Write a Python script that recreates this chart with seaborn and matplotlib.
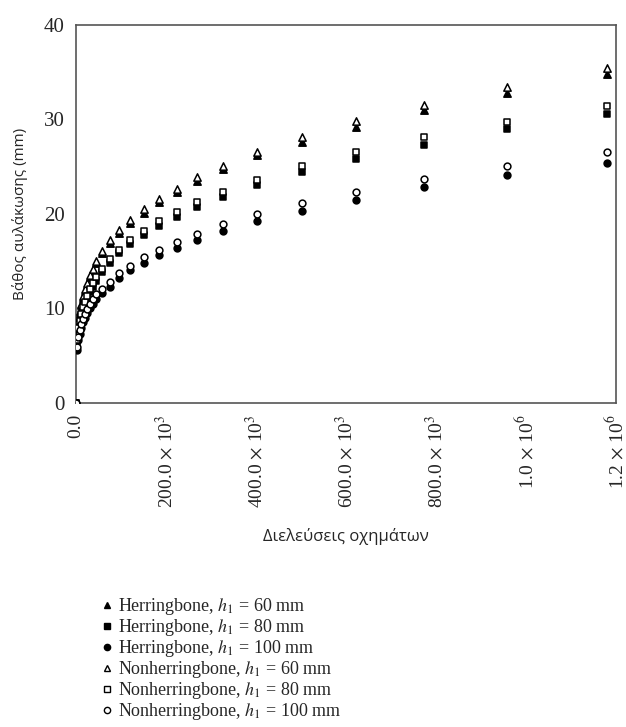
import matplotlib
matplotlib.use("Agg")
import matplotlib.pyplot as plt
import seaborn as sns
import pandas as pd
from matplotlib.lines import Line2D

# ---- data ----
passes = [0, 3e3, 6e3, 9e3, 12e3, 16e3, 20e3, 25e3, 31e3, 38e3, 46e3,
          58e3, 76e3, 96e3, 120e3, 151e3, 184e3, 224e3, 269e3, 327e3,
          402e3, 502e3, 622e3, 773e3, 958e3, 1180e3]

herr_60 = [0, 7.1, 8.6, 9.5, 10.3, 11.1, 11.8, 12.5, 13.3, 14.0, 14.8,
           15.8, 16.9, 18.0, 19.0, 20.1, 21.2, 22.3, 23.5, 24.7,
           26.2, 27.6, 29.2, 31.0, 32.8, 34.8]
herr_80 = [0, 6.3, 7.6, 8.4, 9.1, 9.8, 10.4, 11.0, 11.7, 12.3, 12.9,
           13.8, 14.8, 15.8, 16.8, 17.7, 18.7, 19.7, 20.7, 21.8,
           23.0, 24.4, 25.8, 27.3, 29.0, 30.6]
herr_100 = [0, 5.6, 6.6, 7.3, 7.9, 8.5, 9.0, 9.5, 10.0, 10.5, 11.0,
            11.6, 12.3, 13.2, 14.0, 14.8, 15.6, 16.4, 17.2, 18.2,
            19.2, 20.3, 21.5, 22.8, 24.1, 25.4]
nonh_60 = [0, 7.3, 8.8, 9.7, 10.5, 11.3, 12.0, 12.7, 13.5, 14.2, 15.0,
           16.1, 17.2, 18.3, 19.3, 20.5, 21.6, 22.6, 23.9, 25.1,
           26.5, 28.1, 29.8, 31.5, 33.4, 35.4]
nonh_80 = [0, 6.6, 7.9, 8.7, 9.4, 10.1, 10.7, 11.3, 12.0, 12.7, 13.3,
           14.2, 15.2, 16.2, 17.2, 18.2, 19.2, 20.2, 21.2, 22.3,
           23.6, 25.0, 26.5, 28.1, 29.7, 31.4]
nonh_100 = [0, 5.9, 7.0, 7.7, 8.3, 8.9, 9.4, 9.9, 10.4, 11.0, 11.5,
            12.0, 12.8, 13.7, 14.5, 15.4, 16.2, 17.0, 17.9, 18.9,
            20.0, 21.1, 22.3, 23.7, 25.1, 26.5]

series_labels = [
    r"Herringbone, $h_1$ = 60 mm",
    r"Herringbone, $h_1$ = 80 mm",
    r"Herringbone, $h_1$ = 100 mm",
    r"Nonherringbone, $h_1$ = 60 mm",
    r"Nonherringbone, $h_1$ = 80 mm",
    r"Nonherringbone, $h_1$ = 100 mm",
]
series_values = [herr_60, herr_80, herr_100, nonh_60, nonh_80, nonh_100]
series_markers = ["^", "s", "o", "^", "s", "o"]
series_filled = [True, True, True, False, False, False]

x_ticks = [0, 200e3, 400e3, 600e3, 800e3, 1.0e6, 1.2e6]
x_ticklabels = ["0.0", r"200.0 $\times$ 10$^3$", r"400.0 $\times$ 10$^3$",
                r"600.0 $\times$ 10$^3$", r"800.0 $\times$ 10$^3$",
                r"1.0 $\times$ 10$^6$", r"1.2 $\times$ 10$^6$"]
y_ticks = [0, 10, 20, 30, 40]

# ---- plotting ----
sns.set_style("white")
plt.rcParams["font.family"] = ["Liberation Serif", "DejaVu Serif"]
plt.rcParams["mathtext.fontset"] = "stix"

fig = plt.figure(figsize=(6.26, 7.27), dpi=100)
ax = fig.add_axes([0.121, 0.446, 0.863, 0.52])

order = [3, 4, 5, 0, 1, 2]
for i in order:
    df = pd.DataFrame({"x": passes, "y": series_values[i]})
    filled = series_filled[i]
    sns.scatterplot(data=df, x="x", y="y", ax=ax, marker=series_markers[i],
                    s=24 if series_markers[i] != "^" else 28,
                    facecolor="black" if filled else "white",
                    edgecolor="black", linewidth=1.1, zorder=3 if filled else 4,
                    legend=False)

ax.set_xlim(0, 1.2e6)
ax.set_ylim(0, 40)
ax.set_xticks(x_ticks)
ax.set_xticklabels(x_ticklabels, rotation=90, fontsize=14)
ax.set_yticks(y_ticks)
ax.set_yticklabels([str(v) for v in y_ticks], fontsize=15)
ax.tick_params(axis="both", direction="out", length=4, width=1, color="#555555", pad=4)
for sp in ax.spines.values():
    sp.set_visible(True)
    sp.set_color("#555555")
    sp.set_linewidth(1.2)

ax.set_xlabel("Διελεύσεις οχημάτων", fontsize=12, family=["Open Sans", "DejaVu Sans"], labelpad=15)
ax.set_ylabel("Βάθος αυλάκωσης (mm)", fontsize=11, family=["Open Sans", "DejaVu Sans"], labelpad=11)

handles = []
for i in range(6):
    handles.append(Line2D([], [], linestyle="none", marker=series_markers[i], markersize=4.5,
                          markerfacecolor="black" if series_filled[i] else "white",
                          markeredgecolor="black", markeredgewidth=1.0))
fig.legend(handles, series_labels, loc="upper left", bbox_to_anchor=(0.163, 0.180),
           frameon=False, fontsize=13, handlelength=0.6, handletextpad=0.3,
           labelspacing=0.0, borderaxespad=0, borderpad=0)

fig.savefig("out.png", dpi=100)
